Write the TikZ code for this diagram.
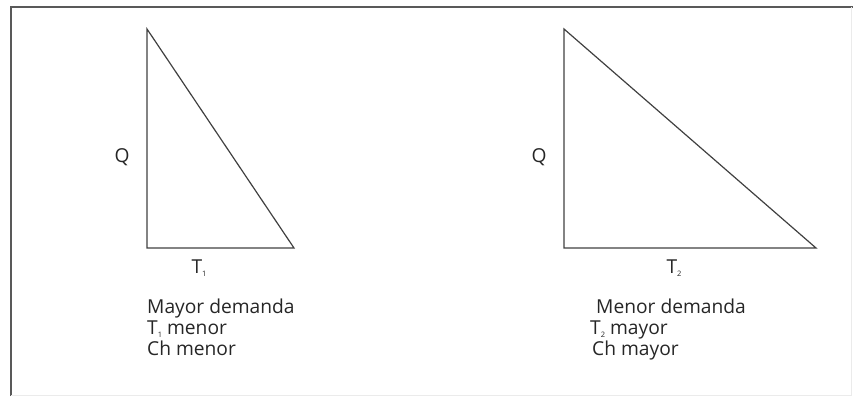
\documentclass[tikz,border=0pt]{standalone}
\usepackage{fontspec}
\setmainfont{Open Sans}
\newcommand{\idx}[1]{\raisebox{-0.35ex}{\fontsize{7.5}{7.5}\selectfont #1}}

\begin{document}
\begin{tikzpicture}[x=1pt, y=-1pt,
    side/.style={draw=black!75, line width=1.2pt, line join=miter},
    lbl/.style={inner sep=0pt, text=black!85, font=\fontsize{19.2}{23}\selectfont},
    txt/.style={lbl, anchor=base west}]
    \useasboundingbox (0,0) rectangle (853,396);

    % Draw frame
    \draw[black!65, line width=1.8pt] (11,396) -- (11,7) -- (853,7);
    \draw[black!8, line width=0.8pt] (851,7) -- (851,395) -- (11,395);

    % Draw corners
    \coordinate (a1) at (147,29);
    \coordinate (b1) at (147,248);
    \coordinate (c1) at (294,248);
    \coordinate (a2) at (564,29);
    \coordinate (b2) at (564,248);
    \coordinate (c2) at (816,248);

    % Draw triangles
    \draw[side] (a1) -- (b1) -- (c1) -- cycle;
    \draw[side] (a2) -- (b2) -- (c2) -- cycle;

    % Labels
    \node[lbl] (q1) at (122,157) {Q};
    \node[lbl] (q2) at (539,157) {Q};
    \node[lbl, anchor=base] (t1) at (199,273) {T\idx{1}};
    \node[lbl, anchor=base] (t2) at (674,273) {T\idx{2}};

    % Notes
    \node[txt] (dem1) at (147,313) {Mayor demanda};
    \node[txt] (tm1) at (147,334) {T\idx{1} menor};
    \node[txt] (ch1) at (147,355) {Ch menor};
    \node[txt] (dem2) at (596,313) {Menor demanda};
    \node[txt] (tm2) at (590,334) {T\idx{2} mayor};
    \node[txt] (ch2) at (592,355) {Ch mayor};
\end{tikzpicture}
\end{document}
